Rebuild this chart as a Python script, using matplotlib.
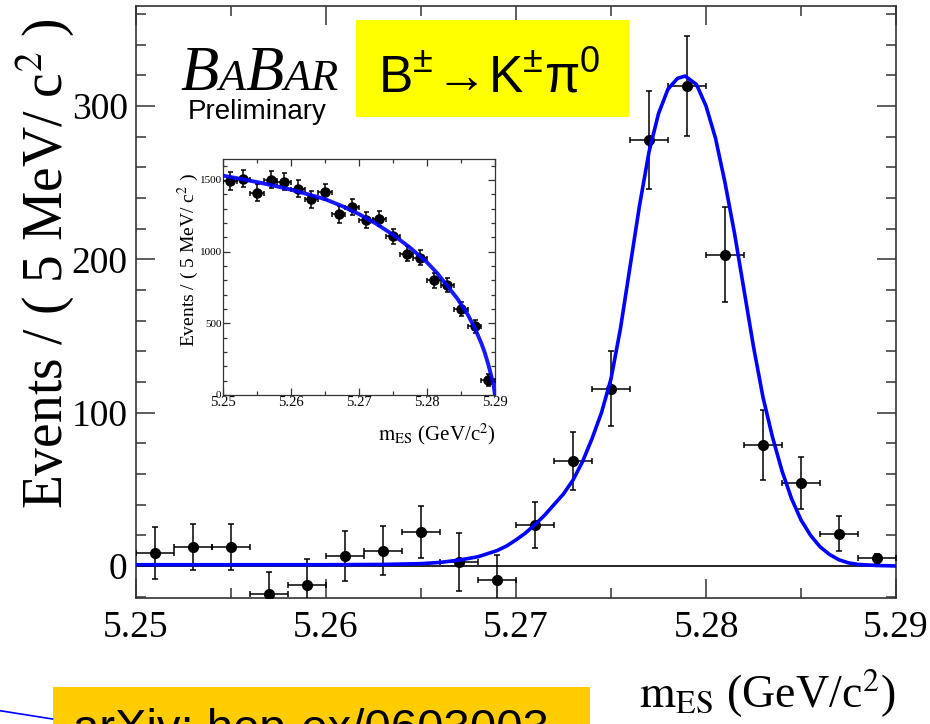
import matplotlib
matplotlib.use('Agg')
import matplotlib.pyplot as plt
from matplotlib.ticker import MultipleLocator
from matplotlib.patches import Rectangle
from matplotlib.lines import Line2D
from matplotlib.offsetbox import TextArea, HPacker, AnchoredOffsetbox

plt.rcParams['mathtext.fontset'] = 'custom'
plt.rcParams['mathtext.rm'] = 'Liberation Sans'
plt.rcParams['mathtext.it'] = 'Liberation Sans:italic'
plt.rcParams['mathtext.bf'] = 'Liberation Sans:bold'

SERIF = 'Liberation Serif'
SANS = 'Liberation Sans'

# mES bins (2 MeV wide), signal-enriched sample
mes = [5.251, 5.253, 5.255, 5.257, 5.259, 5.261, 5.263, 5.265, 5.267, 5.269,
       5.271, 5.273, 5.275, 5.277, 5.279, 5.281, 5.283, 5.285, 5.287, 5.289]
events = [8.5, 12.4, 12.4, -18, -12.4, 6.5, 9.8, 22, 2.6, -9,
          27, 68.5, 115.5, 278, 313, 203, 79, 54, 21, 5]
events_err = [17, 15, 15, 14, 17, 16.5, 16, 17, 19, 16,
              15, 19, 24.5, 32, 32.5, 31, 23, 17, 11.5, 3]
bin_half = 0.001

# fitted signal + background shape
fit_mes = [5.250, 5.255, 5.260, 5.263, 5.265, 5.266, 5.267, 5.268, 5.269, 5.2695,
           5.270, 5.2705, 5.271, 5.2715, 5.272, 5.2725, 5.273, 5.2735, 5.274, 5.2745,
           5.275, 5.2755, 5.276, 5.2765, 5.277, 5.2775, 5.278, 5.2785, 5.2789, 5.2795,
           5.280, 5.2805, 5.281, 5.2815, 5.282, 5.2825, 5.283, 5.2835, 5.284, 5.2845,
           5.285, 5.2855, 5.286, 5.2865, 5.287, 5.2875, 5.288, 5.289, 5.290]
fit_events = [0.8, 0.8, 0.8, 1.0, 1.5, 2.3, 3.8, 6, 10, 13,
              17, 21.5, 27, 33, 40, 47, 56, 68, 83, 100,
              122, 155, 195, 235, 270, 295, 311, 318, 319.5, 314,
              300, 279, 250, 217, 180, 143, 110, 84, 62, 44,
              30, 20, 12.5, 7.5, 4, 2, 1, 0.3, 0]

# continuum-dominated sample shown in the inset
side_events = [1492, 1508, 1410, 1503, 1487, 1438, 1364, 1415, 1259, 1313,
               1219, 1231, 1107, 986, 956, 799, 769, 599, 478, 105]
side_err = [60, 60, 60, 60, 60, 60, 58, 58, 56, 56,
            55, 55, 54, 52, 52, 50, 50, 47, 45, 40]
argus_mes = [5.250, 5.2525, 5.255, 5.2575, 5.260, 5.2625, 5.265, 5.2675, 5.270, 5.2725,
             5.275, 5.2775, 5.280, 5.2815, 5.283, 5.2845, 5.286, 5.287, 5.288, 5.2885,
             5.289, 5.2895, 5.2898, 5.290]
argus_events = [1530, 1508, 1485, 1460, 1432, 1400, 1366, 1318, 1262, 1195,
                1118, 1028, 925, 850, 760, 670, 560, 470, 360, 295,
                215, 125, 65, 0]

W, H = 930, 724
fig = plt.figure(figsize=(W / 100, H / 100), dpi=100)


def fx(px):
    return px / W


def fy(py):
    return 1 - py / H


# ---- main panel ----
ax = fig.add_axes([fx(136), fy(598), fx(896) - fx(136), fy(6) - fy(598)])
ax.set_xlim(5.25, 5.29)
ax.set_ylim(-20.9, 365.2)
ax.axhline(0, color='black', lw=1.2, zorder=2)
ax.errorbar(mes, events, xerr=bin_half, yerr=events_err, fmt='o', color='black',
            ms=7, elinewidth=1.1, capsize=2.5, capthick=1.1, zorder=3)
ax.plot(fit_mes, fit_events, color='#0000ff', lw=2.6, zorder=4)

ax.xaxis.set_major_locator(MultipleLocator(0.01))
ax.xaxis.set_minor_locator(MultipleLocator(0.005))
ax.yaxis.set_major_locator(MultipleLocator(100))
ax.yaxis.set_minor_locator(MultipleLocator(20))
ax.xaxis.set_major_formatter(plt.FormatStrFormatter('%.2f'))
ax.tick_params(which='both', direction='in', top=True, right=True,
               width=1.1, color='#333333', labelfontfamily=SERIF, labelsize=27)
ax.tick_params(which='major', length=14)
ax.tick_params(which='minor', length=7)
ax.tick_params(axis='y', pad=6)
ax.tick_params(axis='x', pad=9)
for s in ax.spines.values():
    s.set_linewidth(1.2)
    s.set_color('#333333')

fig.text(fx(45), fy(264), r'Events / ( 5 MeV/ c$^{2}$ )', rotation=90,
         ha='center', va='center', fontsize=40, family=SERIF, math_fontfamily='stix')
fig.text(fx(895), fy(708), r'$\mathrm{m_{ES}}$ (GeV/c$^{2}$)', ha='right', va='baseline',
         fontsize=33, family=SERIF, math_fontfamily='stix')

# ---- inset ----
ins = fig.add_axes([fx(223), fy(395), fx(495) - fx(223), fy(159) - fy(395)])
ins.set_xlim(5.25, 5.29)
ins.set_ylim(0, 1646)
ins.errorbar(mes, side_events, xerr=bin_half, yerr=side_err, fmt='o', color='black',
             ms=6.5, elinewidth=1.1, capsize=1.8, capthick=1.1, zorder=3)
ins.plot(argus_mes, argus_events, color='#0000ff', lw=2.8, alpha=0.9, zorder=4)
ins.xaxis.set_major_locator(MultipleLocator(0.01))
ins.xaxis.set_minor_locator(MultipleLocator(0.005))
ins.yaxis.set_major_locator(MultipleLocator(500))
ins.yaxis.set_minor_locator(MultipleLocator(100))
ins.xaxis.set_major_formatter(plt.FormatStrFormatter('%.2f'))
ins.tick_params(which='both', direction='in', top=True, right=True, width=0.9,
                color='#333333', labelfontfamily=SERIF, pad=1)
ins.tick_params(which='major', length=5)
ins.tick_params(which='minor', length=3)
ins.tick_params(axis='x', labelsize=10.5)
ins.tick_params(axis='y', labelsize=8)
for s in ins.spines.values():
    s.set_linewidth(0.9)
    s.set_color('#333333')
fig.text(fx(188), fy(260), r'Events / ( 5 MeV/ c$^{2}$ )', rotation=90,
         ha='center', va='center', fontsize=14, family=SERIF, math_fontfamily='stix')
fig.text(fx(496), fy(440), r'$\mathrm{m_{ES}}$ (GeV/c$^{2}$)', ha='right', va='baseline',
         fontsize=15, family=SERIF, math_fontfamily='stix')

# ---- experiment logo ----
logo_letters = [('B', 45), ('A', 32), ('B', 45), ('A', 32), ('R', 32)]
logo = HPacker(children=[TextArea(c, textprops=dict(fontsize=s, family=SERIF, style='italic'))
                         for c, s in logo_letters], align='baseline', pad=0, sep=0)
fig.add_artist(AnchoredOffsetbox(loc='lower left', child=logo, pad=0, borderpad=0,
                                 frameon=False, bbox_to_anchor=(fx(180), fy(104)),
                                 bbox_transform=fig.transFigure))
fig.text(fx(188), fy(119), 'Preliminary', fontsize=20, family=SANS, va='baseline')

# ---- decay mode box ----
fig.add_artist(Rectangle((fx(356), fy(117)), fx(629) - fx(356), fy(20) - fy(117),
                         transform=fig.transFigure, facecolor='#ffff00', edgecolor='none'))
fig.text(fx(378), fy(92), r'B$^{\pm}\!\rightarrow\!$K$^{\pm}$π$^{0}$', fontsize=37,
         va='baseline', family=SANS)

# ---- reference box ----
fig.add_artist(Rectangle((fx(52.5), fy(730)), fx(590) - fx(52.5), fy(687) - fy(730),
                         transform=fig.transFigure, facecolor='#ffcc00', edgecolor='none'))
fig.text(fx(73), fy(742), 'arXiv: hep-ex/0603003', fontsize=34, family=SANS, va='baseline')
fig.add_artist(Line2D([fx(0), fx(52.5)], [fy(710.7), fy(719)], transform=fig.transFigure,
                      color='#0000ff', lw=1.2))

fig.savefig('out.png', dpi=100)
